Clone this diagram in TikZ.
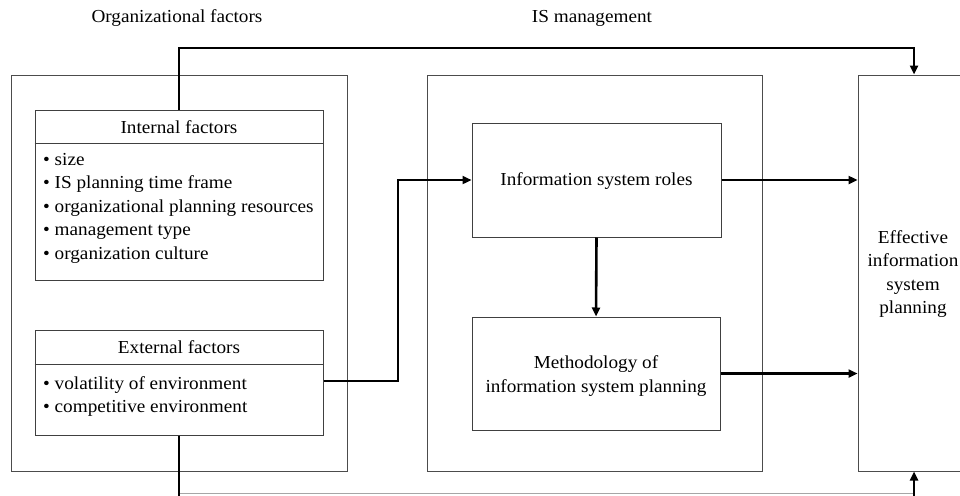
\documentclass[tikz,border=0pt]{standalone}
\usepackage{fontspec}
\setmainfont{Liberation Serif}[FakeStretch=1.05]
\usetikzlibrary{arrows.meta,calc}
\begin{document}
\begin{tikzpicture}[x=1pt,y=-1pt,
  every node/.style={font=\fontsize{18.3}{23.5}\selectfont},
  outer/.style={draw=black!70, line width=1pt, inner sep=0pt},
  inbox/.style={draw=black!75, line width=1pt, inner sep=0pt, fill=white},
  conn/.style={line width=2.6pt, -{Triangle[length=9pt,width=8pt]}}]
\useasboundingbox (0,0) rectangle (960,495);
% headings
\node (orgt) at (177,18) {Organizational factors};
\node (ismt) at (592,18) {IS management};
% outer boxes
\node[outer, minimum width=336pt, minimum height=396pt] (org) at (179,273) {};
\node[outer, minimum width=335pt, minimum height=396pt] (ism) at (594.5,273) {};
\node[outer, minimum width=112pt, minimum height=396pt] (eff) at (914,273) {};
\node[align=center] (efft) at (913,274) {Effective\\information\\system\\planning};
% internal factors
\node[inbox, minimum width=288pt, minimum height=170pt] (int) at (179,195) {};
\draw[draw=black!75, line width=1pt] (int.west |- 0,143) -- (int.east |- 0,143);
\node (intt) at (179,127) {Internal factors};
\node[anchor=north west, align=left, inner sep=0pt] (intl) at (43,153)
  {• size\\• IS planning time frame\\• organizational planning resources\\• management type\\• organization culture};
% external factors
\node[inbox, minimum width=288pt, minimum height=105pt] (ext) at (179,382.5) {};
\draw[draw=black!75, line width=1pt] (ext.west |- 0,364) -- (ext.east |- 0,364);
\node (extt) at (179,347) {External factors};
\node[anchor=north west, align=left, inner sep=0pt] (extl) at (43,376)
  {• volatility of environment\\• competitive environment};
% IS management boxes
\node[inbox, minimum width=249pt, minimum height=114pt] (roles) at (596.5,180) {};
\node (rolest) at (596.5,181) {Information system roles};
\node[inbox, minimum width=248pt, minimum height=113pt] (meth) at (596,373.5) {};
\node[align=center] (metht) at (596,376) {Methodology of\\information system planning};
% connectors
\coordinate (top) at (179,48);
\coordinate (bot) at (179,497);
\coordinate (mid) at (398,381);
\draw[conn] (int.north) -- (top) -| (eff.north);
\draw[draw=black!35, line width=1pt] (179,493) -- (913,493);
\draw[conn] (ext.south) -- (bot) -| (eff.south);
\draw[conn] (ext.east |- mid) -- (mid) |- (roles.west);
\draw[conn] (roles.east) -- (eff.west |- roles.east);
\draw[conn] (meth.east) -- (eff.west |- meth.east);
\draw[conn] (roles.south) -- (meth.north);
\end{tikzpicture}
\end{document}
